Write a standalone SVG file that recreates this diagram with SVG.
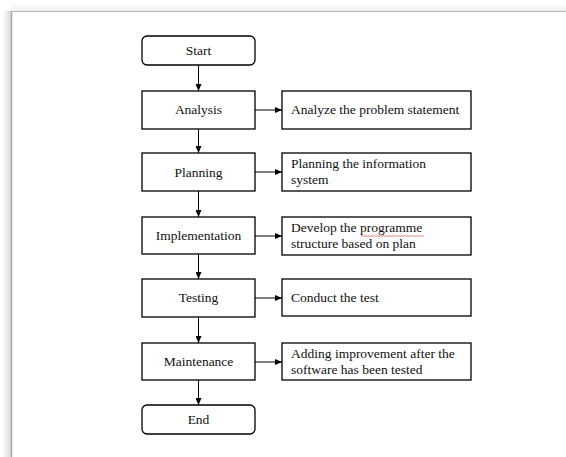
<svg xmlns="http://www.w3.org/2000/svg" width="566" height="457" viewBox="0 0 566 457">
<defs>
<linearGradient id="shL" x1="0" y1="0" x2="1" y2="0">
<stop offset="0" stop-color="#ffffff"/>
<stop offset="1" stop-color="#d8d8d8"/>
</linearGradient>
<linearGradient id="shT" x1="0" y1="0" x2="0" y2="1">
<stop offset="0" stop-color="#ffffff"/>
<stop offset="1" stop-color="#ececec"/>
</linearGradient>
<marker id="ah" markerWidth="7" markerHeight="6" refX="7" refY="3" orient="auto" markerUnits="userSpaceOnUse">
<path d="M0,0 L7,3 L0,6 Z" fill="#000"/>
</marker>
<style>
.box{fill:#fff;stroke:#000;stroke-width:1.3}
.lbl{font-family:"Liberation Serif","DejaVu Serif",serif;font-size:13.5px;fill:#111}
.c{text-anchor:middle}
.con{stroke:#000;stroke-width:1;fill:none;marker-end:url(#ah)}
</style>
</defs>
<rect x="0" y="0" width="566" height="457" fill="#fff"/>
<g id="page">
<rect x="2" y="11" width="9.5" height="446" fill="url(#shL)"/>
<rect x="11" y="4" width="555" height="7.5" fill="url(#shT)"/>
<line x1="11.5" y1="11.5" x2="566" y2="11.5" stroke="#b8b8b8" stroke-width="1"/>
<line x1="11.5" y1="11.5" x2="11.5" y2="457" stroke="#a8a8a8" stroke-width="1.5"/>
</g>
<g id="connectors">
<line class="con" x1="198.5" y1="65" x2="198.5" y2="91"/>
<line class="con" x1="198.5" y1="129" x2="198.5" y2="153"/>
<line class="con" x1="198.5" y1="191" x2="198.5" y2="217"/>
<line class="con" x1="198.5" y1="254" x2="198.5" y2="279"/>
<line class="con" x1="198.5" y1="317" x2="198.5" y2="343"/>
<line class="con" x1="198.5" y1="380" x2="198.5" y2="405"/>
<line class="con" x1="255" y1="110" x2="282" y2="110"/>
<line class="con" x1="255" y1="172" x2="282" y2="172"/>
<line class="con" x1="255" y1="236" x2="282" y2="236"/>
<line class="con" x1="255" y1="298" x2="282" y2="298"/>
<line class="con" x1="255" y1="362" x2="282" y2="362"/>
</g>
<g id="start"><rect class="box" x="142" y="36" width="113" height="29" rx="5"/><text class="lbl c" x="198.5" y="55" font-family="Liberation Serif, serif">Start</text></g>
<g id="analysis"><rect class="box" x="142" y="91" width="113" height="38"/><text class="lbl c" x="198.5" y="114">Analysis</text></g>
<g id="analysis-desc"><rect class="box" x="282" y="91" width="189" height="38"/><text class="lbl" x="291" y="114">Analyze the problem statement</text></g>
<g id="planning"><rect class="box" x="142" y="153" width="113" height="38"/><text class="lbl c" x="198.5" y="177">Planning</text></g>
<g id="planning-desc"><rect class="box" x="282" y="153" width="189" height="38"/><text class="lbl" x="291" y="168">Planning the information</text><text class="lbl" x="291" y="184">system</text></g>
<g id="implementation"><rect class="box" x="142" y="217" width="113" height="37"/><text class="lbl c" x="198.5" y="240">Implementation</text></g>
<g id="implementation-desc"><rect class="box" x="282" y="217" width="189" height="38"/><text class="lbl" x="291" y="232">Develop the programme</text><text class="lbl" x="291" y="248">structure based on plan</text>
<path d="M361,236.5 l1.5,-1 l1.5,1 l1.5,-1 l1.5,1 l1.5,-1 l1.5,1 l1.5,-1 l1.5,1 l1.5,-1 l1.5,1 l1.5,-1 l1.5,1 l1.5,-1 l1.5,1 l1.5,-1 l1.5,1 l1.5,-1 l1.5,1 l1.5,-1 l1.5,1 l1.5,-1 l1.5,1 l1.5,-1 l1.5,1 l1.5,-1 l1.5,1 l1.5,-1 l1.5,1 l1.5,-1 l1.5,1 l1.5,-1 l1.5,1 l1.5,-1 l1.5,1 l1.5,-1 l1.5,1 l1.5,-1 l1.5,1 l1.5,-1 l1.5,1 l1.5,-1 l1.5,1" fill="none" stroke="#e05050" stroke-width="0.7"/></g>
<g id="testing"><rect class="box" x="142" y="279" width="113" height="38"/><text class="lbl c" x="198.5" y="302">Testing</text></g>
<g id="testing-desc"><rect class="box" x="282" y="279" width="189" height="37"/><text class="lbl" x="291" y="302">Conduct the test</text></g>
<g id="maintenance"><rect class="box" x="142" y="343" width="113" height="37"/><text class="lbl c" x="198.5" y="366">Maintenance</text></g>
<g id="maintenance-desc"><rect class="box" x="282" y="343" width="189" height="37"/><text class="lbl" x="291" y="358">Adding improvement after the</text><text class="lbl" x="291" y="374">software has been tested</text></g>
<g id="end"><rect class="box" x="142" y="405" width="113" height="29" rx="5"/><text class="lbl c" x="198.5" y="424">End</text></g>
</svg>
